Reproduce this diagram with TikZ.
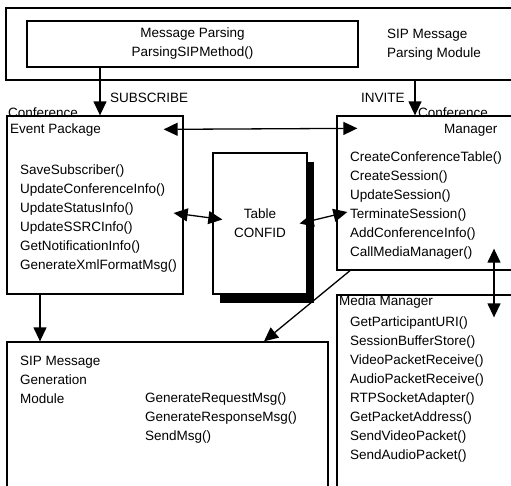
\documentclass[tikz,border=0pt]{standalone}
\usepackage{fontspec}
\setmainfont{Liberation Sans}
\usetikzlibrary{arrows.meta,shadows}

\begin{document}
\begin{tikzpicture}[x=1pt,y=-1pt,
    box/.style={draw,line width=1.3pt,inner sep=0pt},
    txt/.style={inner sep=0pt,anchor=west,align=left,font=\fontsize{13.5}{19}\selectfont},
    arr/.style={line width=1.3pt,-{Triangle[length=14pt,width=13pt]}},
    darr/.style={line width=1.3pt,{Triangle[length=14pt,width=13pt]}-{Triangle[length=14pt,width=13pt]}}]
  \clip (0,0) rectangle (511,485);
  % boxes
  \node[box,minimum width=514pt,minimum height=72pt] (sipparse) at (263,44) {};
  \node[box,minimum width=331pt,minimum height=46pt,align=center,
    font=\fontsize{13.5}{19}\selectfont] (msgparse) at (192.5,44) {Message Parsing\\ParsingSIPMethod()};
  \node[box,minimum width=176pt,minimum height=178pt] (eventpkg) at (95,205) {};
  \node[box,minimum width=183pt,minimum height=154pt] (confmgr) at (428.5,193) {};
  \node[box,fill=white,minimum width=94pt,minimum height=141pt,align=center,
    font=\fontsize{13.5}{19}\selectfont,
    drop shadow={shadow xshift=7pt,shadow yshift=-9pt,fill=black,opacity=1}] (table) at (260,223.5) {Table\\CONFID};
  \node[box,minimum width=183pt,minimum height=205pt] (mediamgr) at (428.5,397.5) {};
  \node[box,minimum width=321pt,minimum height=158pt] (gen) at (167.5,421) {};
  % texts
  \node[txt] (parselbl) at (387,45) {SIP Message\\Parsing Module};
  \node[txt] (sublbl) at (110,98) {SUBSCRIBE};
  \node[txt] (invlbl) at (361,98) {INVITE};
  \node[txt] (eplbl) at (8,112.5) {Conference};
  \node[txt] (eplbl2) at (10,130) {Event Package};
  \node[txt] (epfuncs) at (20,218.5) {SaveSubscriber()\\UpdateConferenceInfo()\\UpdateStatusInfo()\\UpdateSSRCInfo()\\GetNotificationInfo()\\GenerateXmlFormatMsg()};
  \node[txt] (cmlbl) at (418,112.5) {Conference};
  \node[txt] (cmlbl2) at (444,130) {Manager};
  \node[txt] (cmfuncs) at (350,205.5) {CreateConferenceTable()\\CreateSession()\\UpdateSession()\\TerminateSession()\\AddConferenceInfo()\\CallMediaManager()};
  \node[txt] (mmlbl) at (339,302) {Media Manager};
  \node[txt] (mmfuncs) at (350,389.5) {GetParticipantURI()\\SessionBufferStore()\\VideoPacketReceive()\\AudioPacketReceive()\\RTPSocketAdapter()\\GetPacketAddress()\\SendVideoPacket()\\SendAudioPacket()};
  \node[txt] (genlbl) at (20,380) {SIP Message\\Generation\\Module};
  \node[txt] (genfuncs) at (145,418) {GenerateRequestMsg()\\GenerateResponseMsg()\\SendMsg()};
  % connectors
  \draw[arr] (msgparse.south -| 100,0) -- (eventpkg.north -| 100,0);
  \draw[arr] (sipparse.south -| 415,0) -- (confmgr.north -| 415,0);
  \draw[darr] ([shift={(-20,14)}]eventpkg.north east) -- ([shift={(21,13)}]confmgr.north west);
  \draw[darr] ([shift={(-10,8)}]eventpkg.east) -- ([shift={(10,-4)}]table.west);
  \draw[darr] ([shift={(-8,0)}]table.east) -- ([shift={(11,19)}]confmgr.west);
  \draw[darr] ([shift={(65.5,-22)}]confmgr.south) -- ([shift={(65.5,23)}]mediamgr.north);
  \draw[arr] (eventpkg.south -| 40,0) -- (gen.north -| 40,0);
  \draw[arr] (confmgr.south -| 350,0) -- (gen.north -| 264,0);
\end{tikzpicture}
\end{document}
